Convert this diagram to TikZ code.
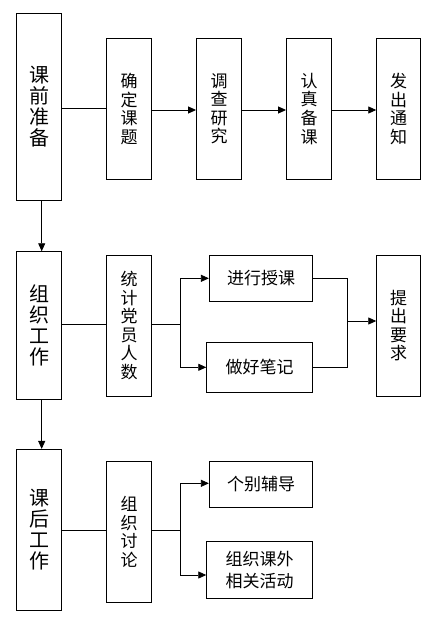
\documentclass[tikz,border=0pt]{standalone}
\usepackage{fontspec}
\newfontfamily\cjk{Noto Sans CJK SC}
\usetikzlibrary{arrows.meta}
\begin{document}
\begin{tikzpicture}[x=1pt,y=-1pt,
  box/.style={draw,line width=0.85pt,inner sep=0pt,align=center,anchor=center},
  bigtxt/.style={font=\cjk\fontsize{20}{21}\selectfont},
  smtxt/.style={font=\cjk\fontsize{17}{18.6}\selectfont},
  ln/.style={line width=0.85pt},
  arr/.style={line width=0.85pt,-{Triangle[length=8pt,width=7pt]}}]
\useasboundingbox (0,0) rectangle (436,618);
% left column
\node[box,bigtxt,minimum width=44.6pt,minimum height=186.7pt] (b1) at (39,106.7) {课\\前\\准\\备};
\node[box,bigtxt,minimum width=44.6pt,minimum height=147.6pt] (b2) at (39,325.5) {组\\织\\工\\作};
\node[box,bigtxt,minimum width=44.6pt,minimum height=160.7pt] (b3) at (39,529.7) {课\\后\\工\\作};
% top row
\node[box,smtxt,minimum width=45pt,minimum height=141pt] (k1) at (129.2,108.8) {确\\定\\课\\题};
\node[box,smtxt,minimum width=45pt,minimum height=141pt] (k2) at (219,108.8) {调\\查\\研\\究};
\node[box,smtxt,minimum width=45pt,minimum height=141pt] (k3) at (309,108.8) {认\\真\\备\\课};
\node[box,smtxt,minimum width=44pt,minimum height=141pt] (k4) at (398.7,108.8) {发\\出\\通\\知};
% middle row
\node[box,smtxt,minimum width=45pt,minimum height=141pt] (m1) at (129.2,325.5) {统\\计\\党\\员\\人\\数};
\node[box,smtxt,minimum width=103.4pt,minimum height=46.7pt] (m2) at (261,278.3) {进行授课};
\node[box,smtxt,minimum width=106pt,minimum height=50pt] (m3) at (259.7,367.3) {做好笔记};
\node[box,smtxt,minimum width=44pt,minimum height=141pt] (m4) at (398.7,325.5) {提\\出\\要\\求};
% bottom row
\node[box,smtxt,minimum width=45pt,minimum height=140.6pt] (n1) at (129.2,532) {组\\织\\讨\\论};
\node[box,smtxt,minimum width=103.4pt,minimum height=45.6pt] (n2) at (261,484.5) {个别辅导};
\node[box,font=\cjk\fontsize{17}{22}\selectfont,minimum width=106pt,minimum height=56.6pt] (n3) at (259.7,570) {组织课外\\相关活动};
% coordinates
\coordinate (s1) at (180,324.3);
\coordinate (r1) at (347.3,321);
\coordinate (s2) at (180,530);
% top connectors
\draw[ln] (b1.east |- 0,108.3) -- (k1.west |- 0,108.3);
\draw[arr] (k1.east |- 0,110) -- (k2.west |- 0,110);
\draw[arr] (k2.east |- 0,110) -- (k3.west |- 0,110);
\draw[arr] (k3.east |- 0,110) -- (k4.west |- 0,110);
% vertical arrows
\draw[arr] ([xshift=2.7pt]b1.south) -- ([xshift=2.7pt]b2.north);
\draw[arr] ([xshift=2.7pt]b2.south) -- ([xshift=2.7pt]b3.north);
% middle connectors
\draw[ln] (b2.east |- s1) -- (m1.west |- s1);
\draw[ln] (m1.east |- s1) -- (s1);
\draw[arr] (s1) |- (m2.west);
\draw[arr] (s1) |- (m3.west);
\draw[ln] (m2.east) -| (r1);
\draw[ln] (m3.east) -| (r1);
\draw[arr] (r1) -- (m4.west |- r1);
% bottom connectors
\draw[ln] (b3.east |- s2) -- (n1.west |- s2);
\draw[ln] (n1.east |- s2) -- (s2);
\draw[arr] (s2) |- (n2.west |- 0,483.3);
\draw[arr] (s2) |- (n3.west |- 0,575);
\end{tikzpicture}
\end{document}
